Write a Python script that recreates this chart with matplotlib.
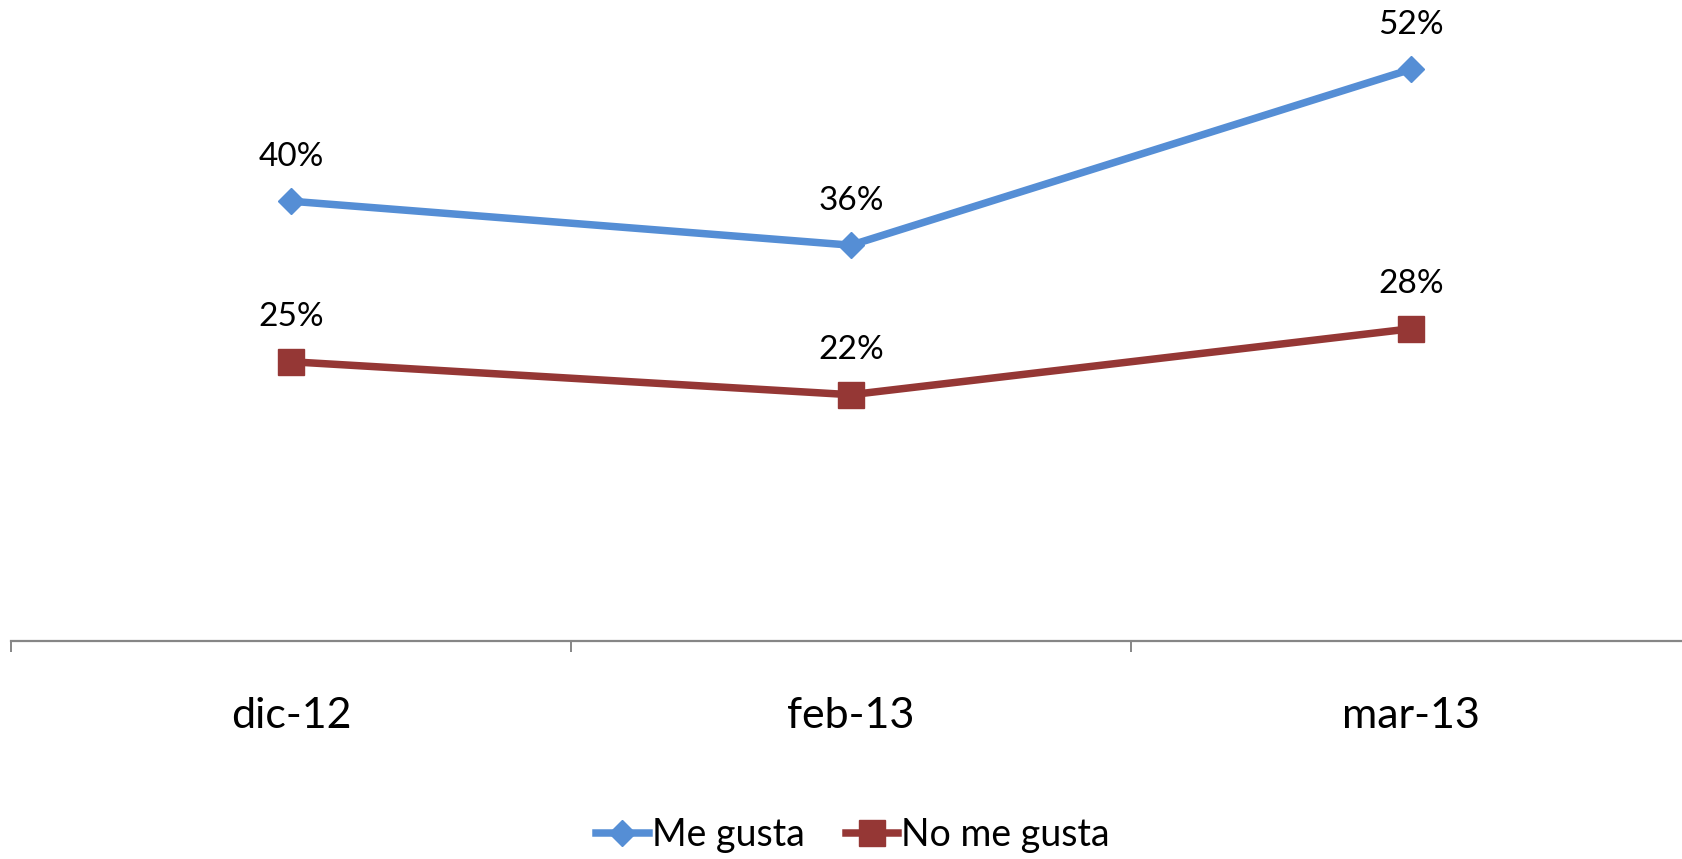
import matplotlib
matplotlib.use("Agg")
import matplotlib.pyplot as plt
from matplotlib.ticker import FixedLocator, NullFormatter

# data
months = ["dic-12", "feb-13", "mar-13"]
me_gusta = [40.0, 36.0, 52.0]
no_me_gusta = [25.4, 22.4, 28.4]
series_names = ["Me gusta", "No me gusta"]

BLUE = "#558ED5"
RED = "#953735"
AXIS_GREY = "#868686"

plt.rcParams["font.family"] = ["Lato", "DejaVu Sans"]

W, H = 1683, 859
fig = plt.figure(figsize=(W / 100, H / 100), dpi=100)
ax = fig.add_axes([11 / W, 1 - 641 / H, 1680 / W, 641 / H])

x = list(range(len(months)))
ax.plot(x, me_gusta, color=BLUE, lw=5.4, marker="D", ms=13.5,
        solid_joinstyle="round", label=series_names[0])
ax.plot(x, no_me_gusta, color=RED, lw=5.4, marker="s", ms=18.5,
        solid_joinstyle="round", label=series_names[1])

for vals in (me_gusta, no_me_gusta):
    for xi, v in zip(x, vals):
        ax.annotate(f"{v:.0f}%", (xi, v), xytext=(0, 32), textcoords="offset points",
                    ha="center", va="center", fontsize=24, color="black")

ax.set_xlim(-0.5, len(months) - 0.5)
ax.set_ylim(0, 58.3)

for side in ("top", "right", "left"):
    ax.spines[side].set_visible(False)
ax.spines["bottom"].set_color(AXIS_GREY)
ax.spines["bottom"].set_linewidth(1.6)
ax.yaxis.set_visible(False)

ax.xaxis.set_major_locator(FixedLocator([i - 0.5 for i in range(len(months) + 1)]))
ax.xaxis.set_major_formatter(NullFormatter())
ax.xaxis.set_minor_locator(FixedLocator(x))
ax.set_xticklabels(months, minor=True)
ax.tick_params(axis="x", which="major", length=8, width=1.4, color=AXIS_GREY, direction="out")
ax.tick_params(axis="x", which="minor", length=0, pad=40, labelsize=31)

fig.legend(loc="center", bbox_to_anchor=(853 / W, 1 - 835 / H), ncol=2, frameon=False,
           fontsize=27, handlelength=1.4, handletextpad=0.08, columnspacing=1.1)

fig.savefig("out.png", dpi=100)
plt.close(fig)
